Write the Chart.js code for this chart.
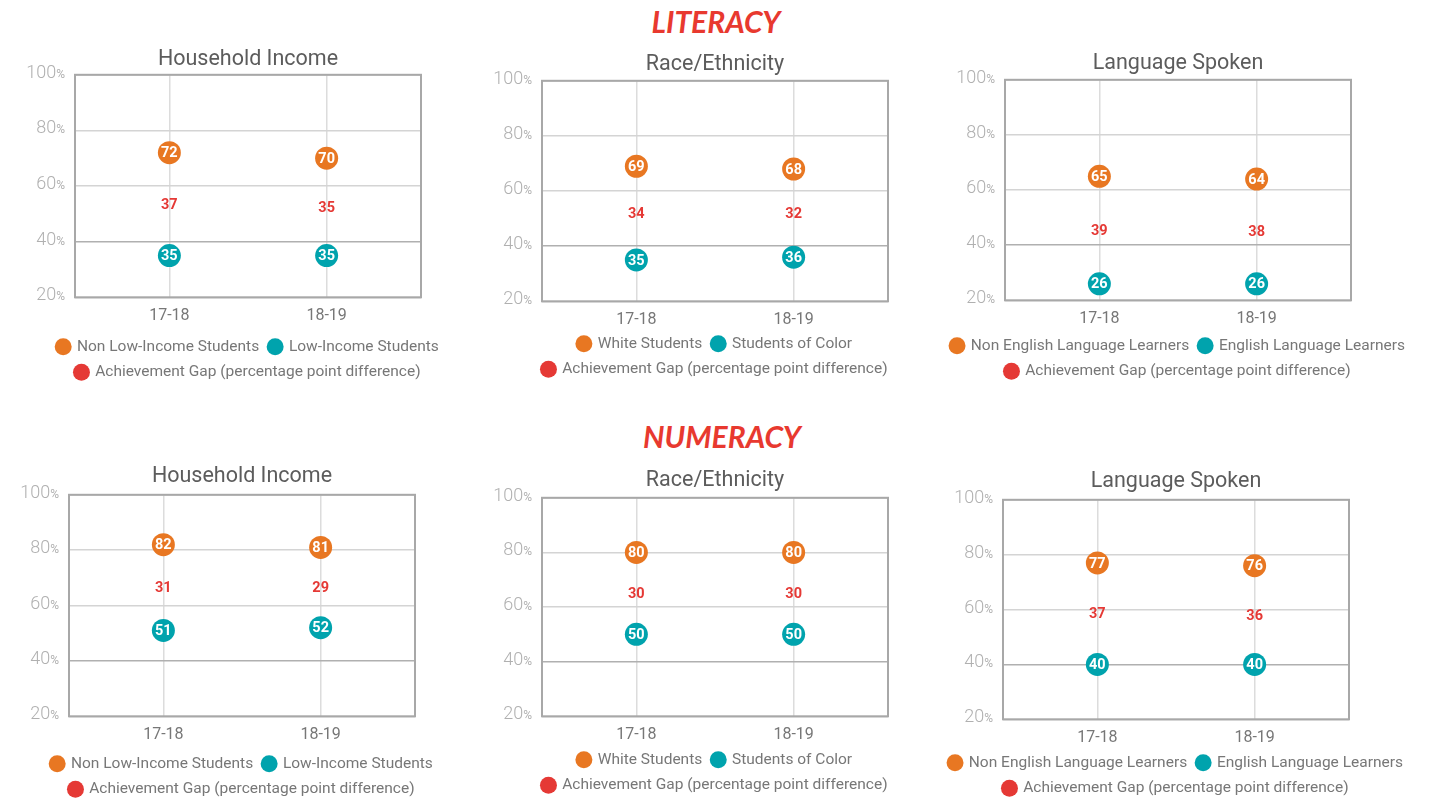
<!DOCTYPE html>
<html>
<head>
<meta charset="utf-8">
<script src="https://cdn.jsdelivr.net/npm/chart.js@4.4.1/dist/chart.umd.min.js"></script>
<style>
body { margin: 0; background: #fff; width: 1437px; height: 801px; position: relative; overflow: hidden; }
.sec { position: absolute; width: 400px; text-align: center; font: italic 700 30px Lato, sans-serif; color: #e8392f; }
canvas { position: absolute; }
</style>
</head>
<body>
<div class="sec" style="left:516px;top:3px">LITERACY</div>
<div class="sec" style="left:522px;top:418px">NUMERACY</div>
<canvas id="c1" width="486" style="left:5px;top:42px"></canvas>
<canvas id="c2" width="486" style="left:472px;top:48px"></canvas>
<canvas id="c3" width="486" style="left:935px;top:47px"></canvas>
<canvas id="c4" width="486" style="left:-1px;top:462px"></canvas>
<canvas id="c5" width="486" style="left:472px;top:465px"></canvas>
<canvas id="c6" width="486" style="left:933px;top:467px"></canvas>
<script>
var years = ['17-18', '18-19'];
var yTicks = [20, 40, 60, 80, 100];

var incomeNames = ['Non Low-Income Students', 'Low-Income Students'];
var raceNames = ['White Students', 'Students of Color'];
var langNames = ['Non English Language Learners', 'English Language Learners'];
var gapName = 'Achievement Gap (percentage point difference)';

var litIncomeHigh = [72, 70];
var litIncomeLow = [35, 35];
var litIncomeGap = [37, 35];
var litRaceHigh = [69, 68];
var litRaceLow = [35, 36];
var litRaceGap = [34, 32];
var litLangHigh = [65, 64];
var litLangLow = [26, 26];
var litLangGap = [39, 38];

var numIncomeHigh = [82, 81];
var numIncomeLow = [51, 52];
var numIncomeGap = [31, 29];
var numRaceHigh = [80, 80];
var numRaceLow = [50, 50];
var numRaceGap = [30, 30];
var numLangHigh = [77, 76];
var numLangLow = [40, 40];
var numLangGap = [37, 36];

var ORANGE = '#e87722';
var TEAL = '#00a3ad';
var RED = '#e53935';

Chart.defaults.font.family = 'Roboto, sans-serif';

// frame round the plot and y tick labels with a small % sign
var frame = {
    id: 'frame',
    beforeDatasetsDraw: function (chart) {
        var a = chart.chartArea, c = chart.ctx;
        c.save();
        c.strokeStyle = '#a8a8a8';
        c.lineWidth = 2;
        c.strokeRect(a.left, a.top, a.right - a.left, a.bottom - a.top);
        c.restore();
    },
    afterDraw: function (chart) {
        var c = chart.ctx, ys = chart.scales.y, xr = chart.chartArea.left - 10;
        c.save();
        c.fillStyle = '#b0b0b0';
        c.textAlign = 'right';
        c.textBaseline = 'alphabetic';
        yTicks.forEach(function (v) {
            var py = ys.getPixelForValue(v) + 3;
            c.font = '12px Roboto';
            var w = c.measureText('%').width;
            c.fillText('%', xr, py);
            c.font = '300 18px Roboto';
            c.fillText(v, xr - w, py);
        });
        c.restore();
    }
};

// numbers inside the circles, and the gap between them
var pointText = {
    id: 'pointText',
    afterDatasetsDraw: function (chart) {
        var c = chart.ctx;
        var top = chart.getDatasetMeta(0).data, bot = chart.getDatasetMeta(1).data;
        c.save();
        c.textAlign = 'center';
        c.textBaseline = 'middle';
        c.font = '700 14.5px Roboto';
        c.fillStyle = '#fff';
        [0, 1].forEach(function (d) {
            chart.getDatasetMeta(d).data.forEach(function (p, i) {
                c.fillText(chart.data.datasets[d].data[i].y, p.x, p.y + 1);
            });
        });
        c.fillStyle = RED;
        c.font = '700 14.5px Roboto';
        chart.data.datasets[2].data.forEach(function (g, i) {
            c.fillText(g.y, top[i].x, (top[i].y + bot[i].y) / 2 + 1);
        });
        c.restore();
    }
};

function pts(vals) {
    return vals.map(function (v, i) { return { x: i, y: v }; });
}

// plotH: height of the plot box, legendGap: from plot bottom to first legend row,
// titleShift: moves the title down without moving the plot
function makeChart(id, title, names, high, low, gap, plotH, legendGap, titleShift) {
    var extra = legendGap - 53.5;
    var el = document.getElementById(id);
    el.height = Math.round(351 + (plotH - 223) + (extra + 2));
    return new Chart(el.getContext('2d'), {
        type: 'scatter',
        data: {
            datasets: [
                { label: names[0], data: pts(high), backgroundColor: ORANGE, borderColor: ORANGE, pointRadius: 11.5, pointBorderWidth: 0 },
                { label: names[1], data: pts(low), backgroundColor: TEAL, borderColor: TEAL, pointRadius: 11.5, pointBorderWidth: 0 },
                { label: gapName, data: pts(gap), backgroundColor: RED, borderColor: RED, pointRadius: 0, pointBorderWidth: 0 }
            ]
        },
        options: {
            responsive: false,
            animation: false,
            devicePixelRatio: 1,
            events: [],
            layout: { padding: 0 },
            plugins: {
                tooltip: { enabled: false },
                title: {
                    display: true,
                    text: title,
                    color: '#5c5c5c',
                    font: { size: 21.5, weight: '400' },
                    padding: { top: 2 + titleShift, bottom: 5 - titleShift }
                },
                legend: {
                    position: 'bottom',
                    labels: {
                        usePointStyle: true,
                        pointStyle: 'circle',
                        boxWidth: 12,
                        boxHeight: 12,
                        padding: 10,
                        color: '#777',
                        font: { size: 15.5 }
                    }
                }
            },
            scales: {
                x: {
                    type: 'linear',
                    min: -0.6,
                    max: 1.6,
                    afterBuildTicks: function (s) {
                        s.ticks = years.map(function (y, i) { return { value: i }; });
                    },
                    ticks: {
                        callback: function (v) { return years[v]; },
                        color: '#777',
                        font: { size: 16 },
                        padding: 9,
                        autoSkip: false,
                        maxRotation: 0
                    },
                    grid: { color: '#dcdcdc', lineWidth: 1.5, drawTicks: false },
                    border: { display: false },
                    afterFit: function (s) { s.height += extra; }
                },
                y: {
                    min: 20,
                    max: 100,
                    afterBuildTicks: function (s) {
                        s.ticks = yTicks.map(function (v) { return { value: v }; });
                    },
                    ticks: { display: false },
                    grid: {
                        color: function (c) { return c.tick && c.tick.value === 40 ? '#b0b0b0' : '#d4d4d4'; },
                        lineWidth: 1.5,
                        drawTicks: false
                    },
                    border: { display: false },
                    afterFit: function (s) { s.width = 70; }
                },
                y2: {
                    position: 'right',
                    min: 0,
                    max: 1,
                    ticks: { display: false },
                    grid: { display: false },
                    border: { display: false },
                    afterFit: function (s) { s.width = 70; }
                }
            }
        },
        plugins: [frame, pointText]
    });
}

document.addEventListener('DOMContentLoaded', function () {
    makeChart('c1', 'Household Income', incomeNames, litIncomeHigh, litIncomeLow, litIncomeGap, 223, 48, 3);
    makeChart('c2', 'Race/Ethnicity', raceNames, litRaceHigh, litRaceLow, litRaceGap, 221, 41, 2);
    makeChart('c3', 'Language Spoken', langNames, litLangHigh, litLangLow, litLangGap, 221, 44, 2);
    makeChart('c4', 'Household Income', incomeNames, numIncomeHigh, numIncomeLow, numIncomeGap, 222, 46, 0);
    makeChart('c5', 'Race/Ethnicity', raceNames, numRaceHigh, numRaceLow, numRaceGap, 219, 42, 1);
    makeChart('c6', 'Language Spoken', langNames, numLangHigh, numLangLow, numLangGap, 220, 42, 0);
});
</script>
</body>
</html>
